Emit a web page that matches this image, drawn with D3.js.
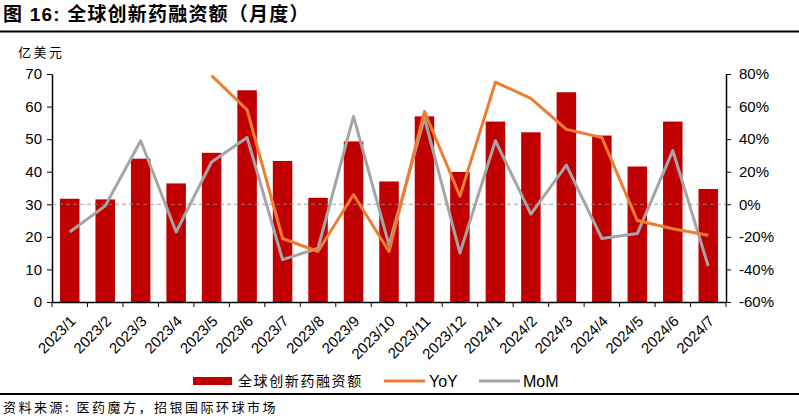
<!DOCTYPE html>
<html>
<head>
<meta charset="utf-8">
<script src="https://cdn.jsdelivr.net/npm/d3@7"></script>
<style>
  body { margin: 0; background: #fff; }
  svg { display: block; font-family: "Liberation Sans", Arial, "Noto Sans CJK SC", sans-serif; }
  .cjk { font-family: "Noto Sans CJK SC", sans-serif; }
</style>
</head>
<body>
<svg id="chart" width="799" height="418"></svg>
<script>
// months on the x axis
const months = ["2023/1", "2023/2", "2023/3", "2023/4", "2023/5", "2023/6", "2023/7", "2023/8", "2023/9", "2023/10",
  "2023/11", "2023/12", "2024/1", "2024/2", "2024/3", "2024/4", "2024/5", "2024/6", "2024/7"];

// financing amount, 100m USD
const amount = [31.7, 31.5, 44.0, 36.4, 45.8, 65.0, 43.3, 32.0, 49.3, 37.0,
  57.0, 39.9, 55.4, 52.1, 64.4, 51.1, 41.6, 55.4, 34.7];

// year over year (%), no value before 2023/5
const yoy = [null, null, null, null, 79, 58, -21, -29, 6, -29,
  57, 5, 75, 65, 46, 41, -10, -15, -19];

// month over month (%)
const mom = [-17, -1, 39, -17, 26, 41, -34, -27, 54, -25,
  53, -30, 39, -6, 24, -21, -18, 33, -38];

const leftTicks = [0, 10, 20, 30, 40, 50, 60, 70];
const rightTicks = [-60, -40, -20, 0, 20, 40, 60, 80];

const svg = d3.select("#chart");
const margin = { top: 74, right: 73, bottom: 116, left: 52 };
const W = 799, H = 418;
const plotW = W - margin.left - margin.right;
const plotH = H - margin.top - margin.bottom;

// title
svg.append("text")
  .attr("x", 3).attr("y", 21)
  .attr("font-size", 19).attr("font-weight", "bold")
  .attr("letter-spacing", 1.2)
  .text("图 16: 全球创新药融资额（月度）");

svg.append("line")
  .attr("x1", 0).attr("x2", W).attr("y1", 31.5).attr("y2", 31.5)
  .attr("stroke", "#000").attr("stroke-width", 2);

svg.append("text")
  .attr("class", "cjk")
  .attr("x", 18).attr("y", 57)
  .attr("font-size", 13).attr("letter-spacing", 2.5)
  .text("亿美元");

const g = svg.append("g").attr("transform", `translate(${margin.left},${margin.top})`);

const x = d3.scaleBand().domain(months).range([0, plotW]).paddingInner(0.45).paddingOuter(0.225);
const yL = d3.scaleLinear().domain([0, 70]).range([plotH, 0]);
const yR = d3.scaleLinear().domain([-60, 80]).range([plotH, 0]);

// bars
g.append("g")
  .attr("fill", "#C00000")
  .selectAll("rect")
  .data(amount)
  .join("rect")
  .attr("x", (d, i) => x(months[i]))
  .attr("y", d => yL(d))
  .attr("width", x.bandwidth())
  .attr("height", d => yL(0) - yL(d));

// zero line of the right axis
g.append("line")
  .attr("x1", 0).attr("x2", plotW)
  .attr("y1", yR(0)).attr("y2", yR(0))
  .attr("stroke", "#8c8c8c").attr("stroke-width", 0.8)
  .attr("stroke-dasharray", "4,3");

const cx = i => x(months[i]) + x.bandwidth() / 2;

const momLine = d3.line().x((d, i) => cx(i)).y(d => yR(d));
g.append("path")
  .datum(mom)
  .attr("fill", "none").attr("stroke", "#A5A5A5").attr("stroke-width", 3)
  .attr("stroke-linejoin", "round")
  .attr("d", momLine);

const yoyLine = d3.line().defined(d => d !== null).x((d, i) => cx(i)).y(d => yR(d));
g.append("path")
  .datum(yoy)
  .attr("fill", "none").attr("stroke", "#ED7D31").attr("stroke-width", 3)
  .attr("stroke-linejoin", "round")
  .attr("d", yoyLine);

// axes
const leftAxis = g.append("g")
  .call(d3.axisLeft(yL).tickValues(leftTicks).tickSize(5).tickSizeOuter(0).tickPadding(5));
const rightAxis = g.append("g")
  .attr("transform", `translate(${plotW},0)`)
  .call(d3.axisRight(yR).tickValues(rightTicks).tickSize(5).tickSizeOuter(0).tickPadding(8)
    .tickFormat(d => d + "%"));

const bottomAxis = g.append("g")
  .attr("transform", `translate(0,${plotH})`)
  .call(d3.axisBottom(x).tickSize(0).tickPadding(0));

// ticks between categories
bottomAxis.selectAll(".bnd")
  .data(d3.range(months.length + 1))
  .join("line")
  .attr("class", "bnd")
  .attr("x1", i => i * x.step()).attr("x2", i => i * x.step())
  .attr("y1", 0).attr("y2", 5)
  .attr("stroke", "#000");

bottomAxis.selectAll(".tick text")
  .attr("font-size", 15)
  .attr("text-anchor", "end")
  .attr("dy", 0)
  .attr("transform", "translate(7,20) rotate(-45)");

[leftAxis, rightAxis].forEach(a => a.selectAll(".tick text").attr("font-size", 15));
[leftAxis, rightAxis, bottomAxis].forEach(a => {
  a.select(".domain").attr("stroke", "#000").attr("stroke-width", 1.5);
  a.selectAll(".tick line").attr("stroke", "#000");
  a.selectAll("text").attr("fill", "#000");
});

// legend
const leg = svg.append("g").attr("transform", "translate(0,381)");
leg.append("rect").attr("x", 193).attr("y", -4).attr("width", 39).attr("height", 8).attr("fill", "#C00000");
leg.append("text").attr("class", "cjk").attr("x", 238).attr("y", 5).attr("font-size", 14)
  .attr("letter-spacing", 1.6).text("全球创新药融资额");
leg.append("line").attr("x1", 384).attr("x2", 425).attr("y1", 0).attr("y2", 0).attr("stroke", "#ED7D31").attr("stroke-width", 3);
leg.append("text").attr("x", 429).attr("y", 6).attr("font-size", 16).text("YoY");
leg.append("line").attr("x1", 479).attr("x2", 520).attr("y1", 0).attr("y2", 0).attr("stroke", "#A5A5A5").attr("stroke-width", 3);
leg.append("text").attr("x", 523).attr("y", 6).attr("font-size", 16).text("MoM");

svg.append("line")
  .attr("x1", 0).attr("x2", W).attr("y1", 394).attr("y2", 394)
  .attr("stroke", "#000").attr("stroke-width", 2);

svg.append("text")
  .attr("class", "cjk")
  .attr("x", 3).attr("y", 412)
  .attr("font-size", 13).attr("letter-spacing", 2.5)
  .text("资料来源: 医药魔方，招银国际环球市场");
</script>
</body>
</html>
